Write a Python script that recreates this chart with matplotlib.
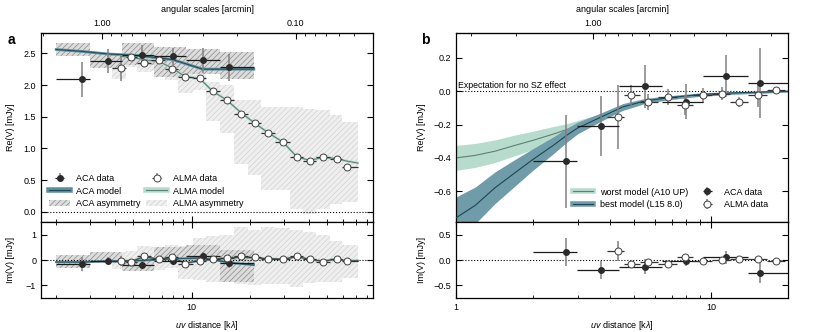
import matplotlib
matplotlib.use('Agg')
import matplotlib.pyplot as plt
from matplotlib.lines import Line2D
from matplotlib.patches import Patch
from matplotlib.legend_handler import HandlerTuple
from matplotlib.ticker import FixedLocator, FuncFormatter, NullFormatter, LogLocator
import numpy as np

plt.rcParams['font.family'] = ['Liberation Sans', 'DejaVu Sans']
plt.rcParams['mathtext.fontset'] = 'custom'
plt.rcParams['mathtext.rm'] = 'Liberation Sans'
plt.rcParams['mathtext.it'] = 'Liberation Sans:italic'
plt.rcParams['font.size'] = 6.5
plt.rcParams['hatch.linewidth'] = 0.5

FS = 6.5

# ---------------- panel a data ----------------
aca_uv = [2.71, 3.69, 5.52, 7.98, 11.4, 15.5]
aca_edges = [2.0, 2.98, 4.35, 6.4, 9.3, 14.0, 20.9]
aca_re = [2.09, 2.38, 2.47, 2.45, 2.39, 2.28]
aca_re_err = [0.28, 0.19, 0.16, 0.13, 0.20, 0.21]
aca_im = [-0.15, -0.02, -0.18, -0.03, 0.15, -0.10]
aca_im_err = [0.27, 0.15, 0.15, 0.12, 0.15, 0.20]
aca_re_asym_lo = [2.45, 2.27, 2.31, 2.13, 2.18, 2.09]
aca_re_asym_hi = [2.67, 2.50, 2.66, 2.60, 2.56, 2.52]
aca_im_asym_lo = [-0.30, -0.10, -0.42, 0.05, -0.05, -0.85]
aca_im_asym_hi = [0.20, 0.30, -0.05, 0.50, 0.60, 0.40]

aca_model_uv = [2.0, 2.71, 3.69, 5.52, 7.98, 11.4, 15.5, 20.9]
aca_model_re = [2.56, 2.53, 2.49, 2.46, 2.40, 2.25, 2.25, 2.25]
aca_model_im = [-0.08, -0.08, -0.05, -0.02, 0.05, 0.08, -0.10, -0.20]

alma_uv = [4.3, 4.86, 5.64, 6.78, 7.9, 9.27, 11.0, 12.85, 15.2, 18.0,
           21.1, 24.7, 29.5, 34.8, 40.5, 47.3, 55.9, 63.0]
alma_edges = [3.9, 4.57, 5.24, 6.18, 7.32, 8.46, 10.1, 11.9, 14.0, 16.5,
              19.5, 22.8, 27.0, 32.0, 37.5, 43.8, 51.4, 59.3, 71.8]
alma_re = [2.27, 2.44, 2.35, 2.39, 2.26, 2.13, 2.11, 1.90, 1.76, 1.55,
           1.40, 1.24, 1.10, 0.86, 0.80, 0.86, 0.84, 0.71]
alma_re_err = [0.20, 0.03, 0.03, 0.03, 0.03, 0.02, 0.02, 0.02, 0.02, 0.02,
               0.02, 0.02, 0.02, 0.02, 0.02, 0.02, 0.02, 0.02]
alma_im = [-0.04, -0.08, 0.15, 0.05, 0.12, -0.15, -0.04, 0.03, 0.08, 0.14,
           0.10, 0.05, 0.03, 0.16, 0.03, -0.06, 0.05, -0.04]
alma_re_asym_lo = [2.10, 2.28, 2.20, 2.22, 2.08, 1.88, 1.92, 1.44, 1.24, 0.76,
                   0.58, 0.34, 0.34, 0.05, -0.03, 0.05, 0.13, 0.15]
alma_re_asym_hi = [2.45, 2.66, 2.60, 2.52, 2.40, 2.30, 2.25, 2.05, 2.00, 1.76,
                   1.76, 1.65, 1.65, 1.65, 1.62, 1.60, 1.52, 1.41]
alma_im_asym_lo = [-0.35, -0.30, -0.45, -0.40, -0.30, -0.75, -0.80, -0.85, -0.80, -0.95,
                   -1.00, -0.95, -0.95, -1.05, -0.90, -0.85, -0.85, -0.70]
alma_im_asym_hi = [0.30, 0.35, 0.55, 0.50, 0.60, 0.55, 0.85, 0.95, 1.00, 1.30,
                   1.20, 1.30, 1.25, 1.20, 1.10, 1.00, 0.75, 0.60]

alma_model_uv = alma_uv + [71.8]
alma_model_re = [2.45, 2.44, 2.40, 2.37, 2.27, 2.13, 2.10, 1.90, 1.76, 1.56,
                 1.40, 1.25, 1.10, 0.87, 0.81, 0.86, 0.84, 0.80, 0.77]
alma_model_im = [-0.03, -0.06, 0.12, 0.04, 0.10, -0.12, -0.03, 0.03, 0.07, 0.12,
                 0.09, 0.05, 0.03, 0.13, 0.03, -0.05, 0.04, -0.04, -0.03]

# ---------------- panel b data ----------------
b_aca_re = [-0.42, -0.21, 0.03, -0.064, 0.09, 0.048]
b_aca_re_err = [0.28, 0.18, 0.13, 0.105, 0.125, 0.21]
b_aca_im = [0.155, -0.20, -0.13, -0.02, 0.05, -0.25]
b_aca_im_err = [0.28, 0.18, 0.14, 0.10, 0.13, 0.20]

b_alma_uv = alma_uv[:10]
b_alma_edges = alma_edges[:11]
b_alma_re = [-0.155, -0.024, -0.064, -0.034, -0.084, -0.024, -0.014, -0.064, -0.024, 0.006]
b_alma_re_err = [0.19, 0.06, 0.05, 0.05, 0.06, 0.045, 0.04, 0.03, 0.07, 0.02]
b_alma_im = [0.18, -0.07, -0.04, -0.07, 0.05, -0.01, 0.0, 0.02, 0.02, -0.01]
b_alma_im_err = [0.20, 0.05, 0.05, 0.05, 0.05, 0.04, 0.04, 0.03, 0.03, 0.02]

model_uv = [1.0, 1.19, 1.42, 1.7, 2.0, 2.43, 2.71, 3.0, 3.7, 4.5, 5.5, 6.7, 9.0, 12.1, 16.4, 20.0]
best_model = [-0.76, -0.685, -0.58, -0.49, -0.41, -0.32, -0.265, -0.22, -0.155, -0.094,
              -0.058, -0.04, -0.02, -0.01, -0.004, 0.0]
best_err = [0.125, 0.11, 0.095, 0.08, 0.065, 0.05, 0.042, 0.035, 0.025, 0.02,
            0.015, 0.012, 0.01, 0.008, 0.006, 0.005]
worst_model = [-0.40, -0.385, -0.36, -0.325, -0.295, -0.255, -0.23, -0.205, -0.155, -0.10,
               -0.062, -0.042, -0.022, -0.011, -0.005, 0.0]
worst_err = [0.075, 0.072, 0.068, 0.062, 0.055, 0.045, 0.035, 0.03, 0.02, 0.015,
             0.012, 0.01, 0.008, 0.006, 0.005, 0.004]

# ---------------- styles ----------------
ACA_FACE = '#2b2b2b'
XBAR = '#1a1a1a'
YBAR = '#808080'
ACA_BAND = '#5e8e9b'
ACA_LINE = '#1f4c5a'
ALMA_BAND = '#b7dccd'
ALMA_LINE = '#5b8377'


def xerr_from(uv, edges):
    uv = np.array(uv)
    e = np.array(edges)
    return np.vstack([uv - e[:-1], e[1:] - uv])


def draw_points(ax, uv, y, yerr, xerr, filled):
    ye = ax.errorbar(uv, y, yerr=yerr, fmt='none', ecolor=YBAR, elinewidth=1.1, zorder=4)
    if filled:
        xe = ax.errorbar(uv, y, xerr=xerr, fmt='o', ms=4, mfc=ACA_FACE, mec=ACA_FACE,
                         ecolor=XBAR, elinewidth=0.9, zorder=5)
    else:
        xe = ax.errorbar(uv, y, xerr=xerr, fmt='o', ms=5, mfc='white', mec='#404040', mew=0.7,
                         ecolor='#333333', elinewidth=0.9, zorder=5)
    return (ye, xe)


def style_axis(ax):
    ax.set_xscale('log')
    ax.tick_params(which='both', direction='in', top=True, right=True, labelsize=FS)
    ax.tick_params(which='major', length=4, width=0.8)
    ax.tick_params(which='minor', length=2, width=0.6)
    ax.xaxis.set_major_formatter(FuncFormatter(lambda v, p: '%g' % v))
    ax.xaxis.set_minor_formatter(NullFormatter())
    for s in ax.spines.values():
        s.set_linewidth(0.9)


def add_top(ax, labels):
    conv = lambda x: 3.4377 / np.maximum(x, 1e-9)
    sec = ax.secondary_xaxis('top', functions=(conv, conv))
    sec.xaxis.set_major_locator(FixedLocator(labels))
    sec.xaxis.set_major_formatter(FuncFormatter(lambda v, p: '%.2f' % v))
    sec.xaxis.set_minor_locator(LogLocator(subs=np.arange(2, 10)))
    sec.xaxis.set_minor_formatter(NullFormatter())
    sec.tick_params(which='both', direction='in', labelsize=FS)
    sec.tick_params(which='major', length=4, width=0.8)
    sec.tick_params(which='minor', length=2, width=0.6)
    sec.set_xlabel('angular scales [arcmin]', fontsize=FS, labelpad=5)
    ax.tick_params(which='both', top=False)
    return sec


def minus_fmt(v, p):
    return ('%.1f' % v).replace('-', '\u2212')


fig = plt.figure(figsize=(8.3, 3.32), dpi=100)
W, H = 830.0, 332.0
axA = fig.add_axes([41 / W, 1 - 222 / H, 332 / W, 189 / H])
axAi = fig.add_axes([41 / W, 1 - 298 / H, 332 / W, 76 / H], sharex=axA)
axB = fig.add_axes([456 / W, 1 - 222 / H, 332 / W, 189 / H])
axBi = fig.add_axes([456 / W, 1 - 298 / H, 332 / W, 76 / H], sharex=axB)
for ax in (axA, axAi, axB, axBi):
    style_axis(ax)

aca_xerr = xerr_from(aca_uv, aca_edges)
alma_xerr = xerr_from(alma_uv, alma_edges)
b_alma_xerr = xerr_from(b_alma_uv, b_alma_edges)
tup = {tuple: HandlerTuple(ndivide=1, pad=0)}

# ---- panel a, real part ----
axA.stairs(alma_re_asym_hi, alma_edges, baseline=alma_re_asym_lo, fill=True,
           facecolor='#efefef', edgecolor='#d2d2d2', hatch='//////', lw=0, zorder=1)
axA.stairs(aca_re_asym_hi, aca_edges, baseline=aca_re_asym_lo, fill=True,
           facecolor='#dcdcdc', edgecolor='#8a8a8a', hatch='//////', lw=0, zorder=1.5)
axA.axhline(0, color='k', ls=':', lw=0.8, zorder=2)
axA.plot(aca_model_uv, aca_model_re, color=ACA_BAND, lw=2.0, zorder=2.5)
axA.plot(aca_model_uv, aca_model_re, color=ACA_LINE, lw=0.7, zorder=2.6)
axA.plot(alma_model_uv, alma_model_re, color=ALMA_BAND, lw=1.8, zorder=2.5)
axA.plot(alma_model_uv, alma_model_re, color=ALMA_LINE, lw=0.8, zorder=2.6)
h_aca = draw_points(axA, aca_uv, aca_re, aca_re_err, aca_xerr, True)
h_alma = draw_points(axA, alma_uv, alma_re, alma_re_err, alma_xerr, False)
axA.set_xlim(1.67, 86)
axA.set_ylim(-0.16, 2.82)
axA.set_yticks([0.0, 0.5, 1.0, 1.5, 2.0, 2.5])
axA.yaxis.set_major_formatter(FuncFormatter(lambda v, p: '%.1f' % v))
axA.tick_params(labelbottom=False)
axA.set_ylabel('Re(V) [mJy]', fontsize=FS)
axA.yaxis.set_label_coords(-0.078, 0.5)
add_top(axA, [1.0, 0.1])

band_aca = (Line2D([], [], color=ACA_BAND, lw=4), Line2D([], [], color=ACA_LINE, lw=0.8))
band_alma = (Line2D([], [], color=ALMA_BAND, lw=4), Line2D([], [], color=ALMA_LINE, lw=0.8))
p_aca = Patch(facecolor='#dcdcdc', edgecolor='#8a8a8a', hatch='//////', lw=0)
p_alma = Patch(facecolor='#efefef', edgecolor='#d2d2d2', hatch='//////', lw=0)
axA.legend([h_aca, band_aca, p_aca, h_alma, band_alma, p_alma],
           ['ACA data', 'ACA model', 'ACA asymmetry', 'ALMA data', 'ALMA model', 'ALMA asymmetry'],
           ncol=2, loc='lower left', bbox_to_anchor=(0.0, 0.03), frameon=False, fontsize=FS,
           handlelength=2.3, handletextpad=0.7, columnspacing=0.6, labelspacing=0.4,
           handler_map=tup)

# ---- panel a, imaginary part ----
axAi.stairs(alma_im_asym_hi, alma_edges, baseline=alma_im_asym_lo, fill=True,
            facecolor='#efefef', edgecolor='#d2d2d2', hatch='//////', lw=0, zorder=1)
axAi.stairs(aca_im_asym_hi, aca_edges, baseline=aca_im_asym_lo, fill=True,
            facecolor='#dcdcdc', edgecolor='#8a8a8a', hatch='//////', lw=0, zorder=1.5)
axAi.axhline(0, color='k', ls=':', lw=0.8, zorder=2)
axAi.plot(aca_model_uv, aca_model_im, color=ACA_BAND, lw=1.6, zorder=2.5)
axAi.plot(aca_model_uv, aca_model_im, color=ACA_LINE, lw=0.6, zorder=2.6)
axAi.plot(alma_model_uv, alma_model_im, color='#7d9a92', lw=1.6, zorder=2.5)
axAi.plot(alma_model_uv, alma_model_im, color='#2f3f3a', lw=0.6, zorder=2.6)
draw_points(axAi, aca_uv, aca_im, aca_im_err, aca_xerr, True)
draw_points(axAi, alma_uv, alma_im, alma_re_err, alma_xerr, False)
axAi.set_ylim(-1.5, 1.5)
axAi.set_yticks([-1, 0, 1])
axAi.set_ylabel('Im(V) [mJy]', fontsize=FS)
axAi.yaxis.set_label_coords(-0.078, 0.5)
axAi.set_xlabel(r'$uv$ distance [k$\lambda$]', fontsize=FS, labelpad=5)

# ---- panel b, real part ----
axB.axhline(0, color='k', ls=':', lw=0.8, zorder=2)
axB.text(1.02, 0.006, 'Expectation for no SZ effect', fontsize=6.3, va='bottom', ha='left')
axB.fill_between(model_uv, np.array(worst_model) - worst_err, np.array(worst_model) + worst_err,
                 color=ALMA_BAND, lw=0, zorder=2)
axB.plot(model_uv, worst_model, color='#61806f', lw=0.8, zorder=2.2)
axB.fill_between(model_uv, np.array(best_model) - best_err, np.array(best_model) + best_err,
                 color='#6f9ca8', lw=0, zorder=2.4)
axB.plot(model_uv, best_model, color='#1c4654', lw=0.8, zorder=2.6)
hb_aca = draw_points(axB, aca_uv, b_aca_re, b_aca_re_err, aca_xerr, True)
hb_alma = draw_points(axB, b_alma_uv, b_alma_re, b_alma_re_err, b_alma_xerr, False)
axB.set_xlim(1.0, 20.0)
axB.set_ylim(-0.785, 0.35)
axB.set_yticks([-0.6, -0.4, -0.2, 0.0, 0.2])
axB.yaxis.set_major_formatter(FuncFormatter(minus_fmt))
axB.tick_params(labelbottom=False)
axB.set_ylabel('Re(V) [mJy]', fontsize=FS)
axB.yaxis.set_label_coords(-0.09, 0.5)
add_top(axB, [1.0])

band_worst = (Line2D([], [], color=ALMA_BAND, lw=4), Line2D([], [], color='#61806f', lw=0.8))
band_best = (Line2D([], [], color='#6f9ca8', lw=4), Line2D([], [], color='#1c4654', lw=0.8))
axB.legend([band_worst, band_best, hb_aca, hb_alma],
           ['worst model (A10 UP)', 'best model (L15 8.0)', 'ACA data', 'ALMA data'],
           ncol=2, loc='lower right', bbox_to_anchor=(0.965, 0.025), frameon=False, fontsize=FS,
           handlelength=2.3, handletextpad=0.7, columnspacing=1.0, labelspacing=0.4,
           handler_map=tup)

# ---- panel b, imaginary part ----
axBi.axhline(0, color='k', ls=':', lw=0.8, zorder=2)
draw_points(axBi, aca_uv, b_aca_im, b_aca_im_err, aca_xerr, True)
draw_points(axBi, b_alma_uv, b_alma_im, b_alma_im_err, b_alma_xerr, False)
axBi.set_ylim(-0.75, 0.75)
axBi.set_yticks([-0.5, 0.0, 0.5])
axBi.yaxis.set_major_formatter(FuncFormatter(minus_fmt))
axBi.set_ylabel('Im(V) [mJy]', fontsize=FS)
axBi.yaxis.set_label_coords(-0.09, 0.5)
axBi.set_xlabel(r'$uv$ distance [k$\lambda$]', fontsize=FS, labelpad=5)

fig.text(8 / W, 1 - 40 / H, 'a', fontsize=10, fontweight='bold', va='center')
fig.text(421 / W, 1 - 40 / H, 'b', fontsize=10, fontweight='bold', va='center')

fig.savefig('out.png', dpi=100)
